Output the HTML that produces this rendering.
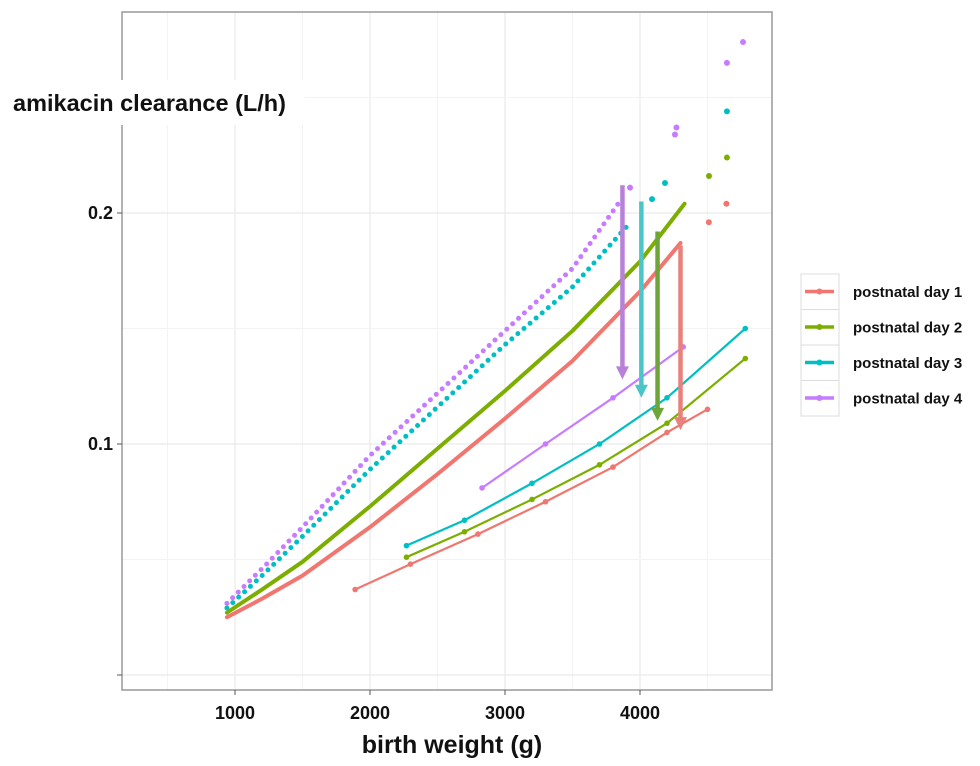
<!DOCTYPE html>
<html><head><meta charset="utf-8">
<style>
body{margin:0;background:#fff;width:980px;height:766px;overflow:hidden;font-family:"Liberation Sans",sans-serif}
svg{display:block}
</style></head>
<body>
<svg id="chart" width="980" height="766" xmlns="http://www.w3.org/2000/svg"></svg>
<script>
const seriesNames=["postnatal day 1","postnatal day 2","postnatal day 3","postnatal day 4"];
const colors=["#f0766f","#7cae00","#00bfc4","#c77cff"];
const arrowColors=["#e8817b","#6ea53a","#4cc5c9","#b881d9"];
const xTicks=[1000,2000,3000,4000];
const yTicks=[0.2,0.1];
// upper (dense) curves: weight, clearance
const upperW=[[940,1200,1500,2000,2500,3000,3500,4000,4300],[940,1200,1500,2000,2500,3000,3500,4000,4330],[940,1200,1500,2000,2500,3000,3500,3900],[940,1200,1500,2000,2500,3000,3500,3850]];
const upperV=[[0.025,0.033,0.043,0.064,0.087,0.111,0.136,0.166,0.187],[0.027,0.037,0.049,0.073,0.098,0.123,0.149,0.179,0.204],[0.029,0.043,0.060,0.089,0.116,0.143,0.168,0.194],[0.031,0.046,0.064,0.095,0.122,0.149,0.176,0.205]];
// sparse extra points
const sparseW=[[4510,4640],[4511,4644],[4089,4185,4644],[3926,4259,4270,4644,4763]];
const sparseV=[[0.196,0.204],[0.216,0.224],[0.206,0.213,0.244],[0.211,0.234,0.237,0.265,0.274]];
// lower thin lines
const lowerW=[[1890,2300,2800,3300,3800,4200,4500],[2270,2700,3200,3700,4200,4780],[2270,2700,3200,3700,4200,4780],[2830,3300,3800,4320]];
const lowerV=[[0.037,0.048,0.061,0.075,0.090,0.105,0.115],[0.051,0.062,0.076,0.091,0.109,0.137],[0.056,0.067,0.083,0.100,0.120,0.150],[0.081,0.100,0.120,0.142]];
// arrows: weight, from value, to value
const arrowW=[4300,4130,4010,3870];
const arrowFrom=[0.186,0.192,0.205,0.212];
const arrowTo=[0.106,0.110,0.120,0.128];

const L=122,R=772,T=12,B=690;
const xs=w=>235+(w-1000)*0.135;
const ys=v=>675-v*2310;
const NS="http://www.w3.org/2000/svg";
const svg=document.getElementById('chart');
function mk(tag,attrs,parent){const e=document.createElementNS(NS,tag);for(const k in attrs)e.setAttribute(k,attrs[k]);(parent||svg).appendChild(e);return e;}

const grid=mk('g',{});


for(let w=500;w<=4500;w+=500){mk('line',{x1:xs(w),x2:xs(w),y1:T,y2:B,stroke:w%1000?'#f3f3f3':'#e6e6e6','stroke-width':1},grid);}
for(let v=0;v<=0.25;v+=0.05){mk('line',{x1:L,x2:R,y1:ys(v),y2:ys(v),stroke:Math.round(v*100)%10?'#f3f3f3':'#e6e6e6','stroke-width':1},grid);}
const frame=mk('rect',{x:L,y:T,width:R-L,height:B-T,fill:'none',stroke:'#999','stroke-width':1.5});



xTicks.forEach(t=>{
  mk('line',{x1:xs(t),x2:xs(t),y1:B,y2:B+5,stroke:'#555'});
  const tx=mk('text',{x:xs(t),y:B+29,'text-anchor':'middle','font-size':18,'font-weight':'bold',fill:'#111'});
  tx.textContent=t;
  
  
});
[0.2,0.1,0].forEach(t=>mk('line',{x1:L-5,x2:L,y1:ys(t),y2:ys(t),stroke:'#555'}));
yTicks.forEach(t=>{
  const tx=mk('text',{x:L-9,y:ys(t)+6,'text-anchor':'end','font-size':18,'font-weight':'bold',fill:'#111'});
  tx.textContent=t;
  
  
});

const pts=(W,V)=>W.map((w,i)=>xs(w)+','+ys(V[i])).join(' ');
for(let s=0;s<4;s++){
  const g=mk('g',{});
  
  
  const dotted=s>=2;
  const up=mk('polyline',{points:pts(upperW[s],upperV[s]),fill:'none',stroke:colors[s],'stroke-width':dotted?5:4,'stroke-linecap':'round','stroke-linejoin':'round','stroke-dasharray':dotted?'0 8':'none'},g);
  
  
  sparseW[s].forEach((w,i)=>{const c=mk('circle',{cx:xs(w),cy:ys(sparseV[s][i]),r:3,fill:colors[s]},g);
    
    });
  const lo=mk('polyline',{points:pts(lowerW[s],lowerV[s]),fill:'none',stroke:colors[s],'stroke-width':2.2},g);
  
  
  lowerW[s].forEach((w,i)=>{const c=mk('circle',{cx:xs(w),cy:ys(lowerV[s][i]),r:2.8,fill:colors[s]},g);
    
    });
}
for(let s=0;s<4;s++){
  const x=xs(arrowW[s]),y1=ys(arrowFrom[s]),y2=ys(arrowTo[s]);
  const g=mk('g',{});
  
  
  mk('line',{x1:x,x2:x,y1:y1,y2:y2-12,stroke:arrowColors[s],'stroke-width':4.5},g);
  mk('polygon',{points:`${x-6.5},${y2-13} ${x+6.5},${y2-13} ${x},${y2}`,fill:arrowColors[s]},g);
}

const yb=mk('rect',{x:0,y:80,width:305,height:45,fill:'#fff'});


const yt=mk('text',{x:13,y:111,'font-size':23.5,'font-weight':'bold',fill:'#111'});
yt.textContent='amikacin clearance (L/h)';


const xt=mk('text',{x:452,y:753,'text-anchor':'middle','font-size':25,'font-weight':'bold',fill:'#111'});
xt.textContent='birth weight (g)';



seriesNames.forEach((n,i)=>{
  const g=mk('g',{});
  
  
  const y0=274+i*35.5;
  mk('rect',{x:801,y:y0,width:38,height:35.5,fill:'#fff',stroke:'#ddd'},g);
  mk('line',{x1:805,x2:834,y1:y0+17.5,y2:y0+17.5,stroke:colors[i],'stroke-width':3.5},g);
  mk('circle',{cx:819.5,cy:y0+17.5,r:3,fill:colors[i]},g);
  const t=mk('text',{x:853,y:y0+23,'font-size':15,'font-weight':'bold',fill:'#111'},g);
  t.textContent=n;
});
</script>
</body></html>
